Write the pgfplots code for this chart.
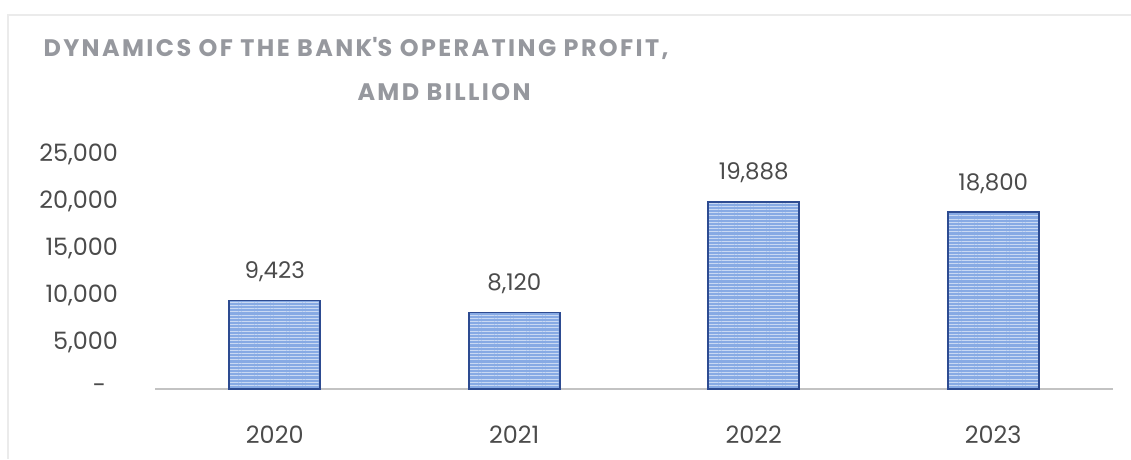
\documentclass[border=0pt]{standalone}
\usepackage{pgfplots}
\pgfplotsset{compat=1.18}
\usepackage{fontspec}
\setmainfont{Poppins}
\usetikzlibrary{patterns.meta}
\definecolor{barfill}{RGB}{135,170,228}
\definecolor{baredge}{RGB}{45,75,145}
\definecolor{txt}{RGB}{75,75,75}
\definecolor{ttl}{RGB}{150,152,158}
\definecolor{axgray}{RGB}{195,195,195}
\begin{document}
\begin{tikzpicture}[x=1bp,y=1bp]
\path[use as bounding box] (0,0) rectangle (565.5,229.5);
\draw[black!8, line width=0.6bp] (4,0) -- (4,222) -- (565.5,222);
\node[text=ttl, font=\fontsize{12}{13}\selectfont\bfseries\addfontfeatures{LetterSpace=10}] at (178,205.5) {DYNAMICS OF THE BANK\textquotesingle S OPERATING PROFIT,};
\node[text=ttl, font=\fontsize{12}{13}\selectfont\bfseries\addfontfeatures{LetterSpace=10}] at (222,183.5) {AMD BILLION};
\begin{axis}[
  at={(77.5bp,35bp)}, anchor=south west,
  scale only axis, width=479bp, height=117.5bp,
  xmin=-0.5, xmax=3.5, ymin=0, ymax=25000,
  scaled y ticks=false,
  ybar, bar width=45.5bp,
  axis x line*=bottom, axis y line*=left,
  y axis line style={draw=none},
  x axis line style={draw=axgray, line width=0.8bp, -},
  major tick length=0pt,
  xtick=data, xticklabels={2020,2021,2022,2023},
  ytick={0,5000,10000,15000,20000,25000},
  yticklabels={{\hbox{-\kern6bp}},{5,000},{10,000},{15,000},{20,000},{25,000}},
  ticklabel style={font=\fontsize{12}{13}\selectfont, text=txt},
  yticklabel style={anchor=east, xshift=-15bp},
  xticklabel style={anchor=center, yshift=-23bp},
  /pgf/number format/assume math mode=true,
  nodes near coords={\pgfmathprintnumber[fixed,precision=0,1000 sep={,},assume math mode=true]{\pgfplotspointmeta}},
  every node near coord/.append style={anchor=south, inner sep=0pt, yshift=9bp, font=\fontsize{11.5}{13}\selectfont, text=txt},
  clip=false,
]
\addplot[fill=barfill, draw=baredge, line width=0.8bp,
  postaction={pattern={Lines[angle=0,distance=1.6bp,line width=0.4bp]}, pattern color=white!55!barfill}]
  coordinates {(0,9423) (1,8120) (2,19888) (3,18800)};
\end{axis}
\end{tikzpicture}
\end{document}
